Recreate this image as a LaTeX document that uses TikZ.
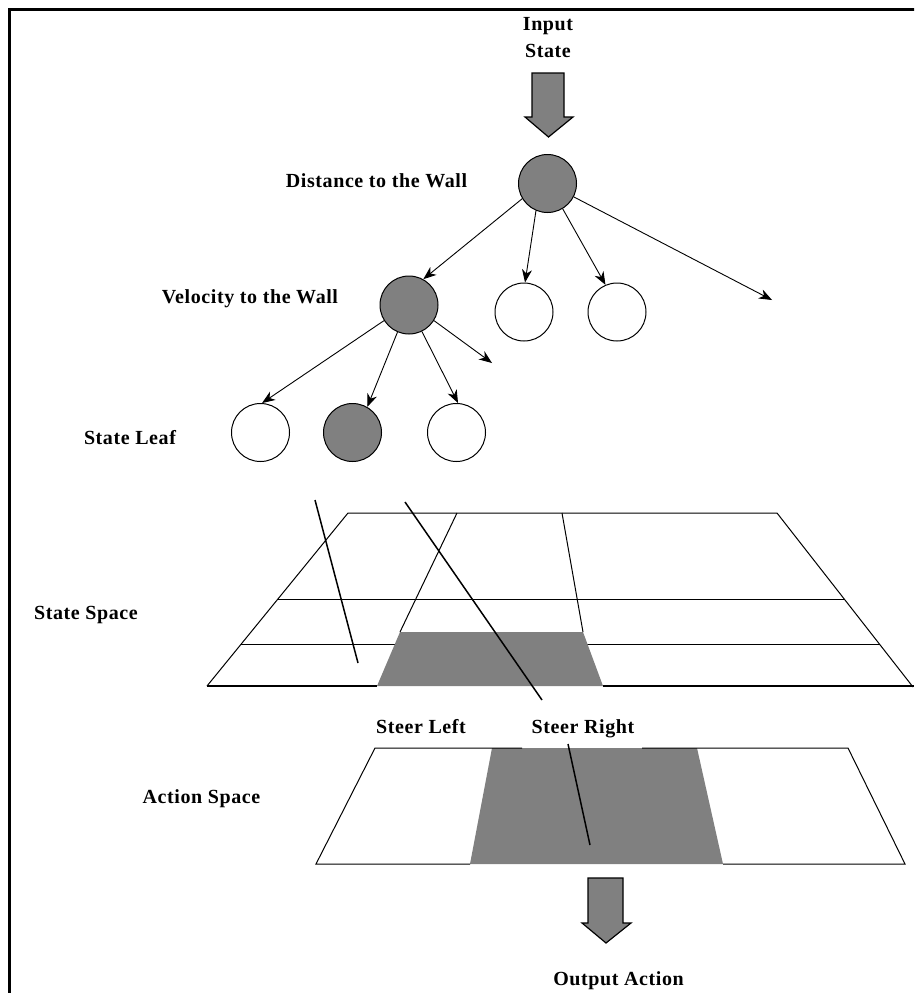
\documentclass[tikz,border=0pt]{standalone}
\usepackage{fontspec}
\setmainfont{Liberation Serif}[LetterSpace=3.0]
\usetikzlibrary{arrows.meta}
\definecolor{midgrey}{RGB}{128,128,128}
\begin{document}
\begin{tikzpicture}[x=1pt,y=-1pt,
  hole/.style={circle,draw=black,line width=1pt,minimum size=58pt,inner sep=0pt},
  link/.style={line width=0.9pt,-{Stealth[length=13pt,width=10pt,inset=4pt]}},
  lbl/.style={font=\fontsize{20}{22}\selectfont\bfseries,inner sep=0pt,anchor=base},
  edge/.style={line width=1pt},
  rim/.style={line width=2.2pt},
  probe/.style={line width=1.5pt},
  bigarrow/.style={fill=midgrey,draw=black,line width=1.2pt,line join=miter}]
\clip (0,0) rectangle (914,993);
\fill[white] (0,0) rectangle (914,993);
% frame
\draw[line width=3.5pt] (9.5,1000) -- (9.5,9.5) -- (920,9.5);

% input arrow and labels
\node[lbl] (inA) at (548,30) {Input};
\node[lbl] (inB) at (548,57) {State};
\path[bigarrow] (532,73) -- (564,73) -- (564,117) -- (573,117) -- (548.5,137)
  -- (525,117) -- (532,117) -- cycle;

% decision tree
\node[hole,fill=midgrey] (dist) at (547.5,183.5) {};
\node[hole,fill=midgrey] (vel) at (409,305) {};
\node[hole] (w1) at (524,312) {};
\node[hole] (w2) at (617,312) {};
\node[hole] (l1) at (260.5,432.5) {};
\node[hole,fill=midgrey] (l2) at (352.5,432.5) {};
\node[hole] (l3) at (456.5,432.5) {};
\coordinate (dfree) at (772,300);
\coordinate (vfree) at (492,363);

\draw[link] (dist.211) -- (vel.61);
\draw[link] (dist.247) -- (w1.88);
\draw[link] (dist.301) -- (w2.113);
\draw[link] (dist.333) -- (dfree);
\draw[link] (vel.212) -- (l1.87);
\draw[link] (vel.247) -- (l2.60);
\draw[link] (vel.296) -- (l3.87);
\draw[link] (vel.328) -- (vfree);

\node[lbl] (ldist) at (376.5,187) {Distance to the Wall};
\node[lbl] (lvel) at (250,303) {Velocity to the Wall};
\node[lbl] (lleaf) at (130,444) {State Leaf};

% state space grid
\draw[edge] (278,599) -- (845,599);
\draw[edge] (241,644) -- (880,644);
\fill[midgrey] (400,632) -- (583,632) -- (603,686) -- (377,686) -- cycle;
\draw[edge] (207,686) -- (348,513) -- (777,513) -- (913,687);
\draw[edge] (457,513) -- (400,632);
\draw[edge] (562,513) -- (583,632);
\draw[rim] (207,686) -- (377,686);
\draw[rim] (603,686) -- (914,686);
\node[lbl] (lss) at (86,619) {State Space};

% action space
\fill[midgrey] (492,748) -- (697,748) -- (723,864) -- (470,864) -- cycle;
\draw[edge] (522,748) -- (375,748) -- (316,864) -- (470,864);
\draw[edge] (642,748) -- (848,748) -- (905,864) -- (723,864);
\node[lbl] (lsl) at (421,733) {Steer Left};
\node[lbl] (lsr) at (583,733) {Steer Right};
\node[lbl] (las) at (201.5,803) {Action Space};

% mapping lines
\coordinate (pa) at (315,500);
\coordinate (pb) at (358,663);
\coordinate (pc) at (405,502);
\coordinate (pd) at (542,700);
\coordinate (pe) at (568,744);
\coordinate (pf) at (590,845);
\draw[probe] (pa) -- (pb);
\draw[probe] (pc) -- (pd);
\draw[probe] (pe) -- (pf);

% output arrow and label
\path[bigarrow] (588,878) -- (623,878) -- (623,923) -- (631,923) -- (606,943)
  -- (582,923) -- (588,923) -- cycle;
\node[lbl] (lout) at (618.5,985) {Output Action};
\end{tikzpicture}
\end{document}
